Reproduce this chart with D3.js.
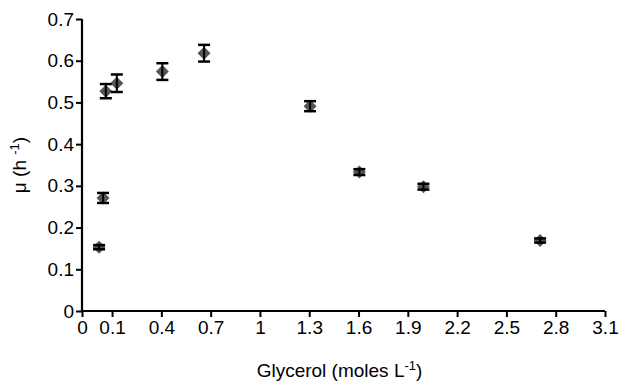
<!DOCTYPE html>
<html>

<head>
  <meta charset="utf-8">
  <title>Growth rate vs glycerol</title>
  <script src="https://d3js.org/d3.v7.min.js"></script>
  <style>
    body { margin: 0; background: #fff; }
    text { font-family: "Liberation Sans", Arial, sans-serif; fill: #000; }
  </style>
</head>

<body>
  <svg width="625" height="385"></svg>
  <script>
    // values
    var glycerol = [0.021, 0.045, 0.062, 0.129, 0.406, 0.66, 1.305, 1.605, 1.995, 2.705];
    var mu = [0.153, 0.271, 0.527, 0.546, 0.574, 0.618, 0.491, 0.333, 0.298, 0.169];
    var muErr = [0.005, 0.012, 0.017, 0.021, 0.02, 0.02, 0.012, 0.007, 0.007, 0.005];
    var xTicks = [0.1, 0.4, 0.7, 1, 1.3, 1.6, 1.9, 2.2, 2.5, 2.8, 3.1];
    var yTicks = [0, 0.1, 0.2, 0.3, 0.4, 0.5, 0.6, 0.7];
    var xStart = -0.083; // axis origin, labelled "0"

    var svg = d3.select("svg");
    var margin = { top: 19, right: 20, bottom: 74, left: 82 };
    var width = +svg.attr("width") - margin.left - margin.right;
    var height = +svg.attr("height") - margin.top - margin.bottom;
    var g = svg.append("g").attr("transform", "translate(" + margin.left + "," + margin.top + ")");

    var x = d3.scaleLinear().domain([xStart, 3.1]).range([0, width]);
    var y = d3.scaleLinear().domain([0, 0.7]).range([height, 0]);

    //osi
    var xAxis = g.append("g")
      .attr("transform", "translate(0," + height + ")")
      .call(d3.axisBottom(x)
        .tickValues([xStart].concat(xTicks))
        .tickSize(6)
        .tickPadding(4)
        .tickFormat(function (d) { return d === xStart ? "0" : d3.format("")(d); }));

    var yAxis = g.append("g")
      .call(d3.axisLeft(y)
        .tickValues(yTicks)
        .tickSize(6)
        .tickPadding(2)
        .tickFormat(function (d) { return d === 0 ? "0" : d3.format(".1f")(d); }));

    [xAxis, yAxis].forEach(function (a) {
      a.select(".domain").remove();
      a.selectAll(".tick line").attr("stroke", "#000").attr("stroke-width", 2);
      a.selectAll(".tick text").style("font-size", "19px").attr("fill", "#000");
    });
    g.append("line")
      .attr("x1", 0).attr("x2", width).attr("y1", height).attr("y2", height)
      .attr("stroke", "#000").attr("stroke-width", 2.2);
    g.append("line")
      .attr("x1", 0).attr("x2", 0).attr("y1", 0).attr("y2", height + 1)
      .attr("stroke", "#000").attr("stroke-width", 2.2);

    var data = glycerol.map(function (v, i) { return { x: v, y: mu[i], e: muErr[i] }; });

    //točke
    var diamond = function (d) {
      var cx = x(d.x), cy = y(d.y), r = 6.5;
      return "M" + cx + "," + (cy - r) + "L" + (cx + r) + "," + cy + "L" + cx + "," + (cy + r) + "L" + (cx - r) + "," + cy + "Z";
    };
    g.selectAll(".pt")
      .data(data)
      .enter()
      .append("path")
      .attr("class", "pt")
      .attr("d", diamond)
      .attr("fill", "#555");

    //error bars
    var eb = g.selectAll(".err").data(data).enter().append("g").attr("class", "err")
      .attr("stroke", "#000").attr("stroke-width", 2.5);
    eb.append("line")
      .attr("x1", function (d) { return x(d.x); })
      .attr("x2", function (d) { return x(d.x); })
      .attr("y1", function (d) { return y(d.y + d.e); })
      .attr("y2", function (d) { return y(d.y - d.e); })
      .attr("stroke-width", 2);
    [1, -1].forEach(function (s) {
      eb.append("line")
        .attr("x1", function (d) { return x(d.x) - 6; })
        .attr("x2", function (d) { return x(d.x) + 6; })
        .attr("y1", function (d) { return y(d.y + s * d.e); })
        .attr("y2", function (d) { return y(d.y + s * d.e); });
    });

    //naslovi osi
    var xt = svg.append("text")
      .attr("x", margin.left + width / 2 - 4)
      .attr("y", 377)
      .attr("text-anchor", "middle")
      .style("font-size", "19px");
    xt.append("tspan").text("Glycerol (moles L");
    xt.append("tspan").text("-1").attr("dy", -7).style("font-size", "13px");
    xt.append("tspan").text(")").attr("dy", 7);

    var yt = svg.append("text")
      .attr("transform", "translate(26," + (margin.top + height / 2) + ") rotate(-90)")
      .attr("text-anchor", "middle")
      .style("font-size", "19px");
    yt.append("tspan").text("\u03bc (h ");
    yt.append("tspan").text("-1").attr("dy", -7).style("font-size", "13px");
    yt.append("tspan").text(")").attr("dy", 7);
  </script>
</body>

</html>
